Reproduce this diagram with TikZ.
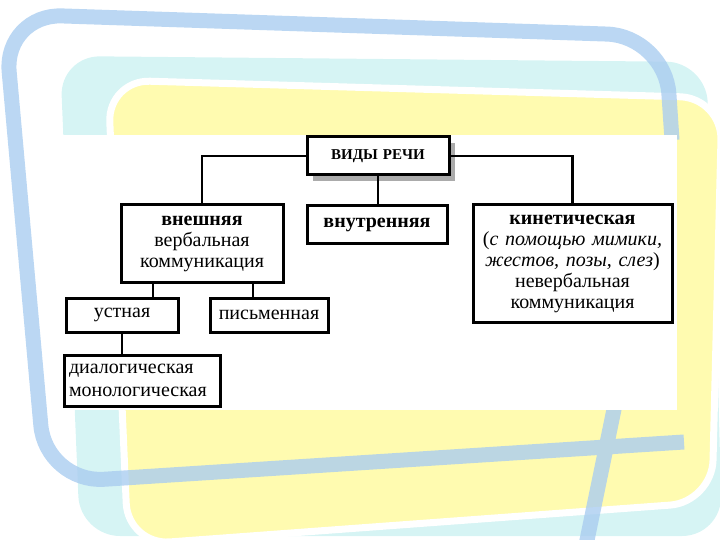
\documentclass[tikz,border=0pt]{standalone}
\usepackage{fontspec}
\setmainfont{Liberation Serif}
\usepackage{xcolor}
\usepackage{tikz}
\usetikzlibrary{shadows}

\definecolor{framecol}{RGB}{170,205,240}
\definecolor{cyanbg}{RGB}{214,244,244}
\definecolor{yellowbg}{RGB}{255,251,176}

\begin{document}
\begin{tikzpicture}[x=1pt, y=-1pt,
    box/.style={rectangle, draw, line width=3pt, inner sep=0pt, text centered, font=\fontsize{20}{21}\selectfont},
    link/.style={line width=2.5pt}]
            \useasboundingbox (0,0) rectangle (720,540);

            % background
            \fill[cyanbg, rounded corners=40] (60,56) -- (706,62) -- (716,300) -- (722,536) -- (80,536) -- cycle;
            \filldraw[fill=yellowbg, draw=white, line width=7pt, rounded corners=42] (108,80) -- (722,98) -- (712,502) -- (128,545) -- cycle;
            \draw[framecol, opacity=0.8, line width=15pt, rounded corners=58] (684,442) -- (46,483) -- (4,14) -- (665,36) -- (672,140) (618,390) -- (586,545);
            \fill[white] (58,135) rectangle (677,410);

            \node (vidy) [box, text width=142pt, minimum height=38pt, fill=white, font=\fontsize{15}{18}\selectfont\bfseries, drop shadow={shadow xshift=6pt, shadow yshift=-6pt, fill=black!33, opacity=1}] at (378,156) {ВИДЫ РЕЧИ};
            \node (vnesh) [box, text width=162pt, minimum height=77pt] at (202,243.5) {\textbf{внешняя}\\вербальная\\коммуникация};
            \node (vnutr) [box, text width=140pt, minimum height=37pt] at (377,224.5) {\textbf{внутренняя}};
            \node (kin) [box, text width=199pt, minimum height=117pt] at (572.5,263.5) {\textbf{кинетическая}\\(\textit{с помощью мимики,}\\\textit{жестов, позы, слез})\\невербальная\\коммуникация};
            \node (ustn) [box, text width=112pt, minimum height=34pt] at (122,315) {устная};
            \node (pism) [box, text width=118pt, minimum height=34pt] at (269,315) {письменная};
            \node (dial) [box, text width=146pt, inner xsep=5pt, minimum height=51pt, text ragged, font=\fontsize{20}{23}\selectfont] at (142,380.5) {диалогическая\\монологическая};

            \draw [link] (vidy.west) -| (vnesh.north);
            \draw [link] (vidy.east) -| (kin.north);
            \draw [link] (vidy.south) -- (vidy.south |- vnutr.north);
            \draw [link] ([xshift=-49pt]vnesh.south) -- ([xshift=-49pt]vnesh.south |- ustn.north);
            \draw [link] ([xshift=51pt]vnesh.south) -- ([xshift=51pt]vnesh.south |- pism.north);
            \draw [link] (ustn.south) -- (ustn.south |- dial.north);
        \end{tikzpicture}
\end{document}
